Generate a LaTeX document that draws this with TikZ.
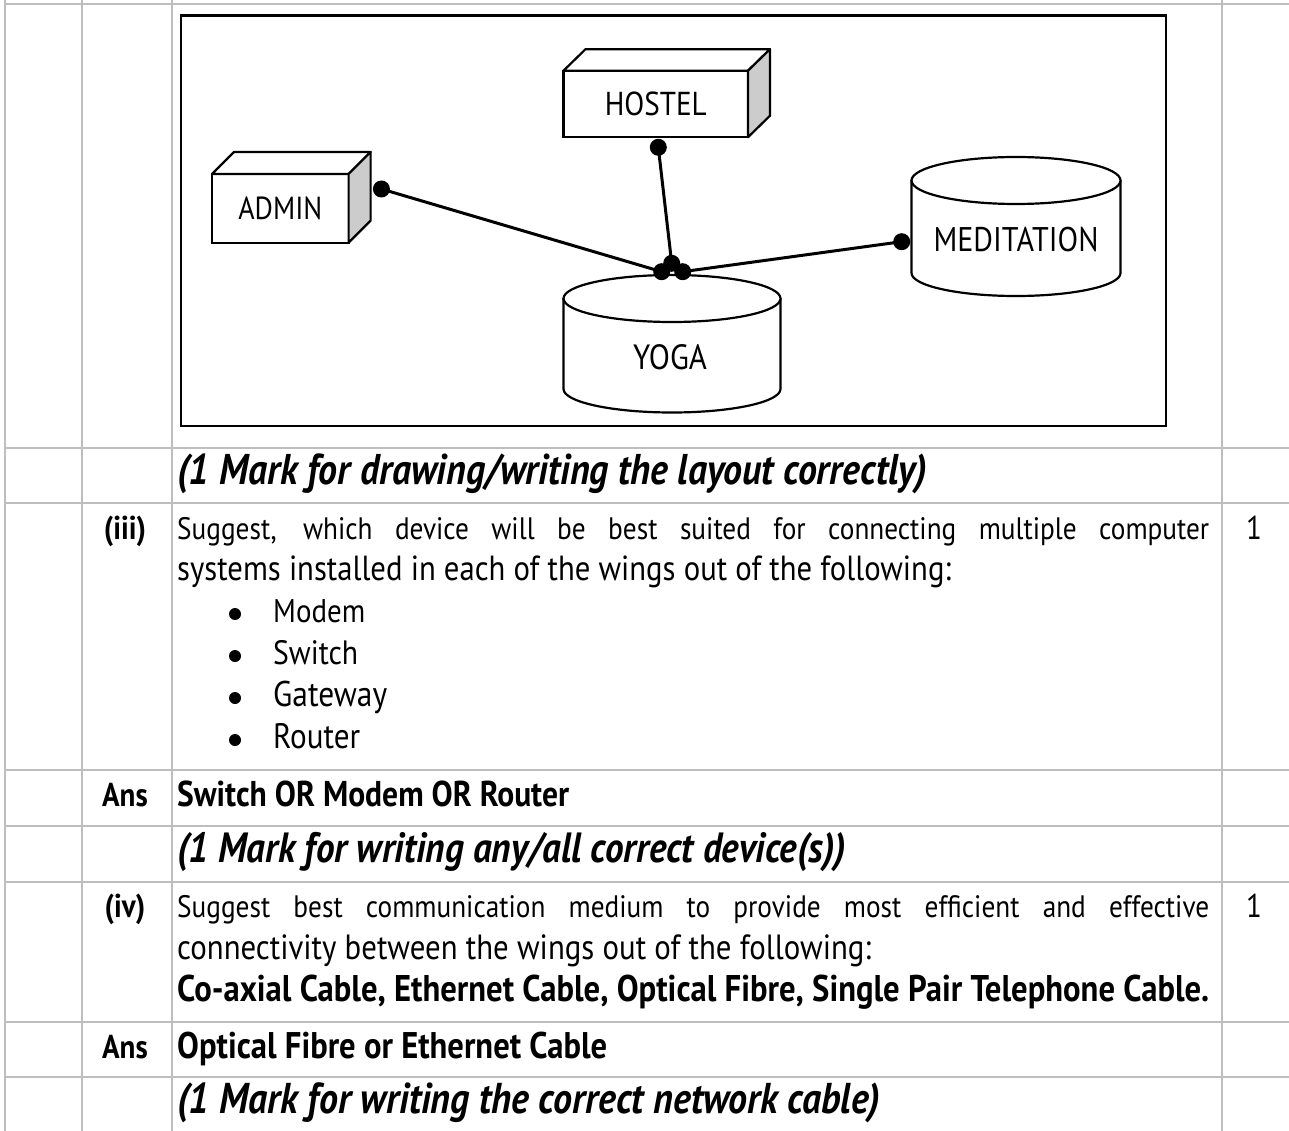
\documentclass[tikz,border=0pt]{standalone}
\usepackage{fontspec}
\setmainfont{PT Sans}[FakeStretch=0.88]
\usepackage{graphicx}
\definecolor{gridgray}{RGB}{190,190,190}
\definecolor{sidegray}{RGB}{204,204,204}
\newcommand\fitw[2]{\resizebox{#1}{!}{#2}}
\begin{document}
\begin{tikzpicture}[x=1pt,y=-1pt,
  gridline/.style={draw=gridgray,line width=2pt},
  frame/.style={draw=black,line width=2.4pt},
  boxnode/.style={draw=black,line width=2.2pt,fill=white,inner sep=0pt,outer sep=0pt,anchor=north west,font=\fontsize{28pt}{32pt}\selectfont},
  boxface/.style={draw=black,line width=2.2pt,fill=white,line join=round},
  sideface/.style={draw=black,line width=2.2pt,fill=sidegray,line join=round},
  lbl/.style={inner sep=0pt,font=\fontsize{28pt}{32pt}\selectfont},
  dot/.style={circle,fill=black,inner sep=0pt,minimum size=17pt},
  link/.style={draw=black,line width=3pt},
  txt/.style={inner sep=0pt,anchor=base west,font=\fontsize{31pt}{36pt}\selectfont},
  num/.style={inner sep=0pt,anchor=base,font=\fontsize{33pt}{38pt}\selectfont},
  bul/.style={circle,fill=black,inner sep=0pt,minimum size=12pt}]
\useasboundingbox (0,0) rectangle (1289,1131);
\fill[white] (0,0) rectangle (1289,1131);
% table grid
\foreach \x in {5,82,172,1222} \draw[gridline] (\x,0) -- (\x,1131);
\foreach \y in {4,448,503,770,826,882,1022,1077} \draw[gridline] (5,\y) -- (1289,\y);
% diagram frame
\draw[frame] (181,15.7) rectangle (1166,426);
% HOSTEL box
\node[boxnode,minimum width=184.5pt,minimum height=66.5pt] (hostel) at (563.5,70.7) {\fitw{102pt}{HOSTEL}};
\draw[boxface] (hostel.north west) -- ++(22,-21.5) -- ([shift={(22,-21.5)}]hostel.north east) -- (hostel.north east) -- cycle;
\draw[sideface] (hostel.north east) -- ++(22,-21.5) -- ([shift={(22,-21.5)}]hostel.south east) -- (hostel.south east) -- cycle;
% ADMIN box
\node[boxnode,minimum width=136.6pt,minimum height=68.7pt] (admin) at (212,174) {\fitw{84pt}{ADMIN}};
\draw[boxface] (admin.north west) -- ++(22,-22) -- ([shift={(22,-22)}]admin.north east) -- (admin.north east) -- cycle;
\draw[sideface] (admin.north east) -- ++(22,-22) -- ([shift={(22,-22)}]admin.south east) -- (admin.south east) -- cycle;
% YOGA cylinder
\draw[boxface] (563.5,298.5) -- (563.5,389) arc[start angle=180,end angle=360,x radius=108.5pt,y radius=23.5pt] -- (780.5,298.5) -- cycle;
\draw[boxface] (672,298.5) ellipse [x radius=108.5pt,y radius=23.5pt];
\node[lbl] (yoga) at (670,357) {\fitw{74pt}{YOGA}};
% MEDITATION cylinder
\draw[boxface] (911.5,180.5) -- (911.5,273) arc[start angle=180,end angle=360,x radius=104.5pt,y radius=23pt] -- (1120.5,180.5) -- cycle;
\draw[boxface] (1016,180.5) ellipse [x radius=104.5pt,y radius=23.5pt];
\node[lbl] (meditation) at (1016,240) {\fitw{165pt}{MEDITATION}};
% connection dots
\node[dot] (dA) at (381.4,189) {};
\node[dot] (dH) at (658.3,147.3) {};
\node[dot] (dM) at (901.7,241.7) {};
\node[dot] (yA) at (661.7,271.7) {};
\node[dot] (yH) at (671.7,263.3) {};
\node[dot] (yM) at (682.7,271.7) {};
% links
\draw[link] (dA.center) -- (yA.center);
\draw[link] (dH.center) -- (yH.center);
\draw[link] (dM.center) -- (yM.center);
% row 2
\node[txt] (mark1) at (177,484) {\fitw{750pt}{\bfseries\itshape (1 Mark for drawing/writing the layout correctly)}};
% row 3
\node[num] (q3) at (125,539) {\bfseries (iii)};
\node[txt] (q3a) at (177,539) {\makebox[1032pt][s]{Suggest, which device will be best suited for connecting multiple computer}};
\node[txt] (q3b) at (177,580) {\fitw{774pt}{systems installed in each of the wings out of the following:}};
\node[bul] (b1) at (235,614) {};
\node[txt] (o1) at (273,622) {\fitw{92pt}{Modem}};
\node[bul] (b2) at (235,656) {};
\node[txt] (o2) at (273,664) {\fitw{85pt}{Switch}};
\node[bul] (b3) at (235,698) {};
\node[txt] (o3) at (273,706) {\fitw{114pt}{Gateway}};
\node[bul] (b4) at (235,740) {};
\node[txt] (o4) at (273,748) {\fitw{87pt}{Router}};
\node[num] (m3) at (1254,539) {1};
% row 4
\node[num] (a3) at (125,806) {\bfseries Ans};
\node[txt] (a3t) at (177,806) {\fitw{392pt}{\bfseries Switch OR Modem OR Router}};
% row 5
\node[txt] (mark2) at (177,862) {\fitw{669pt}{\bfseries\itshape (1 Mark for writing any/all correct device(s))}};
% row 6
\node[num] (q4) at (125,917) {\bfseries (iv)};
\node[txt] (q4a) at (177,917) {\makebox[1032pt][s]{Suggest best communication medium to provide most efficient and effective}};
\node[txt] (q4b) at (177,959) {\fitw{694pt}{connectivity between the wings out of the following:}};
\node[txt] (q4c) at (177,1001) {\fitw{1032pt}{\bfseries Co-axial Cable, Ethernet Cable, Optical Fibre, Single Pair Telephone Cable.}};
\node[num] (m4) at (1254,917) {1};
% row 7
\node[num] (a4) at (125,1058) {\bfseries Ans};
\node[txt] (a4t) at (177,1058) {\fitw{430pt}{\bfseries Optical Fibre or Ethernet Cable}};
% row 8
\node[txt] (mark3) at (177,1113) {\fitw{703pt}{\bfseries\itshape (1 Mark for writing the correct network cable)}};
\end{tikzpicture}
\end{document}
